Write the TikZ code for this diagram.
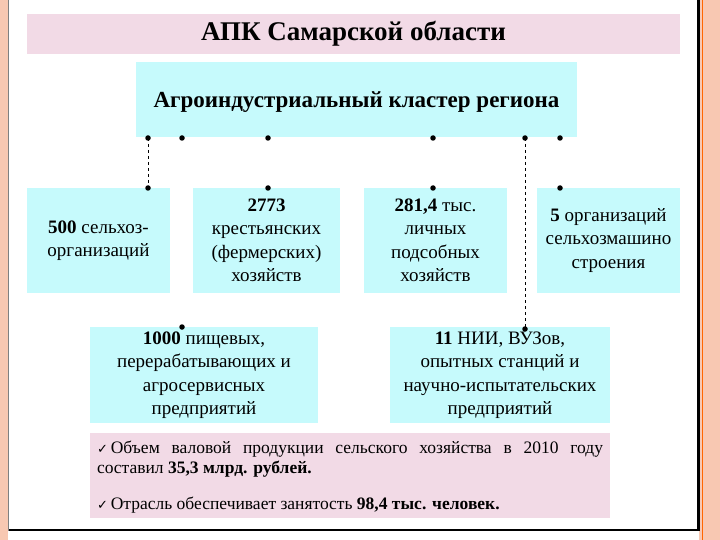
\documentclass[tikz,border=0pt]{standalone}
\usepackage{fontspec}
\setmainfont{Liberation Serif}[BoldFont={Liberation Serif Bold}]
\newfontfamily\checkfont{DejaVu Sans}
\usetikzlibrary{calc}

\definecolor{bandpink}{HTML}{F2DAE6}
\definecolor{boxcyan}{HTML}{C6FAFC}
\definecolor{slideedge}{HTML}{F8C8B2}

\begin{document}
\begin{tikzpicture}[x=1pt,y=-1pt,
  pinkbox/.style={fill=bandpink,inner sep=0pt},
  cyanbox/.style={fill=boxcyan,inner sep=0pt,align=center,
  font=\fontsize{19}{23.5}\selectfont},
  lowbox/.style={cyanbox,font=\fontsize{19}{23.5}\selectfont},
  joint/.style={circle,fill=black,inner sep=0pt,minimum size=5.5pt},
  link/.style={dashed,thin}]
  \useasboundingbox (0,0) rectangle (720,540);
  % slide frame
  \fill[white] (0,0) rectangle (720,540);
  \fill[slideedge] (0,0) rectangle (8,540);
  \draw[gray,thin] (8.5,0) -- (8.5,531);
  \fill[slideedge] (699,0) rectangle (720,540);
  \draw[orange!80!red,thin] (702,0) -- (702,540);
  \fill[black] (697,0) rectangle (699.5,531);
  \fill[black] (9,528.5) rectangle (699.5,531);

  \node[pinkbox,minimum width=653,minimum height=40,
  font=\fontsize{27}{30}\selectfont\bfseries] (title) at (353.5,34) {АПК Самарской области};
  \node[cyanbox,minimum width=441,minimum height=75] (cluster) at (356.5,99.5) {};
  \node[font=\fontsize{23}{26}\selectfont\bfseries] at (356.5,102) {Агроиндустриальный кластер региона};

  \node[cyanbox,minimum width=143,minimum height=105] (farms) at (98.5,240.5)
  {\textbf{500} сельхоз-\\организаций};
  \node[cyanbox,minimum width=147,minimum height=105] (peasant) at (266.5,240.5)
  {\textbf{2773}\\крестьянских\\(фермерских)\\хозяйств};
  \node[cyanbox,minimum width=143,minimum height=105] (private) at (435.5,240.5)
  {\textbf{281,4} тыс.\\личных\\подсобных\\хозяйств};
  \node[cyanbox,minimum width=143,minimum height=105] (machines) at (608.5,240.5)
  {\textbf{5} организаций\\сельхозмашино\\строения};
  \node[lowbox,minimum width=228,minimum height=96] (food) at (204,375)
  {\textbf{1000} пищевых,\\перерабатывающих и\\агросервисных\\предприятий};
  \node[lowbox,minimum width=220,minimum height=96] (science) at (500,375)
  {\textbf{11} НИИ, ВУЗов,\\опытных станций и\\научно-испытательских\\предприятий};

  \node[pinkbox,minimum width=520,minimum height=85] (facts) at (350,475.5) {};
  \node[text width=506,align=justify,font=\fontsize{17.5}{20.5}\selectfont] at (350,477)
  {{\checkfont\fontsize{13}{20}\selectfont ✓}\,Объем валовой продукции сельского хозяйства в 2010 году
  составил \textbf{35,3 млрд. рублей.}\par\vspace{15pt}
  {\checkfont\fontsize{13}{20}\selectfont ✓}\,Отрасль обеспечивает занятость \textbf{98,4 тыс. человек.}};

  % dots on the cluster
  \node[joint] (c1) at (148,138) {};
  \node[joint] (c2) at (182,138) {};
  \node[joint] (c3) at (268,138) {};
  \node[joint] (c4) at (433,138) {};
  \node[joint] (c5) at (525,138) {};
  \node[joint] (c6) at (560,138) {};
  % dots on the boxes
  \node[joint] (d1) at (148,188) {};
  \node[joint] (d3) at (268,188) {};
  \node[joint] (d4) at (433,188) {};
  \node[joint] (d6) at (560,188) {};
  \node[joint] (d2) at (182,327) {};
  \node[joint] (d5) at (525,329) {};

  \path[link]
  	(c1.center) edge (d1.center)
  	(c5.center) edge (d5.center);
\end{tikzpicture}
\end{document}
